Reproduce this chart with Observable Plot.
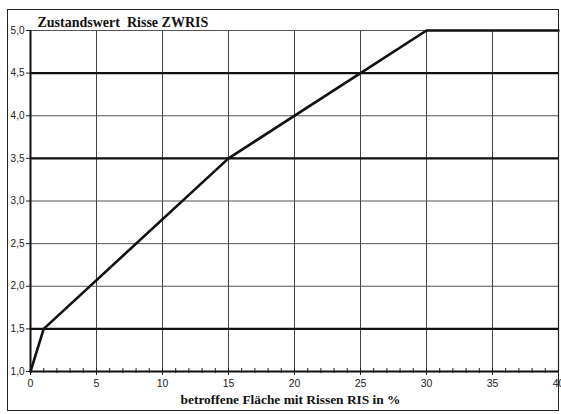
<!DOCTYPE html>
<html><head><meta charset="utf-8">
<script src="https://cdn.jsdelivr.net/npm/d3@7"></script>
<script src="https://cdn.jsdelivr.net/npm/@observablehq/plot@0.6"></script>
<style>
body{margin:0;background:#fff;}
#wrap{position:relative;width:561px;height:414px;}
#border{position:absolute;left:7px;top:9px;width:550px;height:400px;border:1.5px solid #222;pointer-events:none;}
svg text{white-space:pre;}
</style>
</head><body>
<div id="wrap"><div id="border"></div></div>
<script>
const curveX = [0, 1, 15, 25, 30, 40];
const curveY = [1.0, 1.5, 3.5, 4.5, 5.0, 5.0];
const levels = [1.5, 3.5, 4.5];
const xTicks = [0, 5, 10, 15, 20, 25, 30, 35, 40];
const xMinor = d3.range(0, 41, 1);
const yTicks = [1.0, 1.5, 2.0, 2.5, 3.0, 3.5, 4.0, 4.5, 5.0];
const title = "Zustandswert\u00a0 Risse ZWRIS";
const xLabel = "betroffene Fläche mit Rissen RIS in %";

const curve = curveX.map((x, i) => ({x, y: curveY[i]}));
const fmt = d => d.toFixed(1).replace(".", ",");

const chart = Plot.plot({
  width: 561, height: 414,
  marginLeft: 30, marginRight: 3, marginTop: 30, marginBottom: 43,
  style: {fontFamily: "'Liberation Sans', Arial, sans-serif", fontSize: "9.5px", color: "#222", background: "transparent"},
  x: {domain: [0, 40]},
  y: {domain: [1, 5]},
  marks: [
    Plot.gridX(xTicks.slice(1, -1), {stroke: "#444", strokeOpacity: 1, strokeWidth: 1}),
    Plot.gridY(yTicks.slice(1), {stroke: "#555", strokeOpacity: 1, strokeWidth: 1}),
    Plot.ruleY(levels, {stroke: "#111", strokeWidth: 2.2}),
    Plot.ruleX([40], {stroke: "#222", strokeWidth: 1.2}),
    Plot.axisX(xMinor, {tickSize: 5, dy: -3, text: null, label: null, stroke: "#222"}),
    Plot.axisX(xTicks, {tickSize: 4, tickPadding: 4, label: null, fontSize: 10.5}),
    Plot.axisY(yTicks, {tickSize: 4, tickPadding: 2, tickFormat: fmt, label: null, fontSize: 10}),
    Plot.ruleX([0], {stroke: "#111", strokeWidth: 2}),
    Plot.ruleY([1], {stroke: "#111", strokeWidth: 2}),
    Plot.line(curve, {x: "x", y: "y", stroke: "#111", strokeWidth: 2.6, strokeLinejoin: "miter"}),
    Plot.text([title], {frameAnchor: "top-left", dx: 7, dy: -13, fontFamily: "'Liberation Serif', 'Times New Roman', serif", fontWeight: "bold", fontSize: 14, fill: "#111", textAnchor: "start"}),
    Plot.text([xLabel], {frameAnchor: "bottom", dy: 32, dx: -4, fontFamily: "'Liberation Serif', 'Times New Roman', serif", fontWeight: "bold", fontSize: 13.4, fill: "#111"})
  ]
});
document.getElementById("wrap").prepend(chart);
</script>
</body></html>
